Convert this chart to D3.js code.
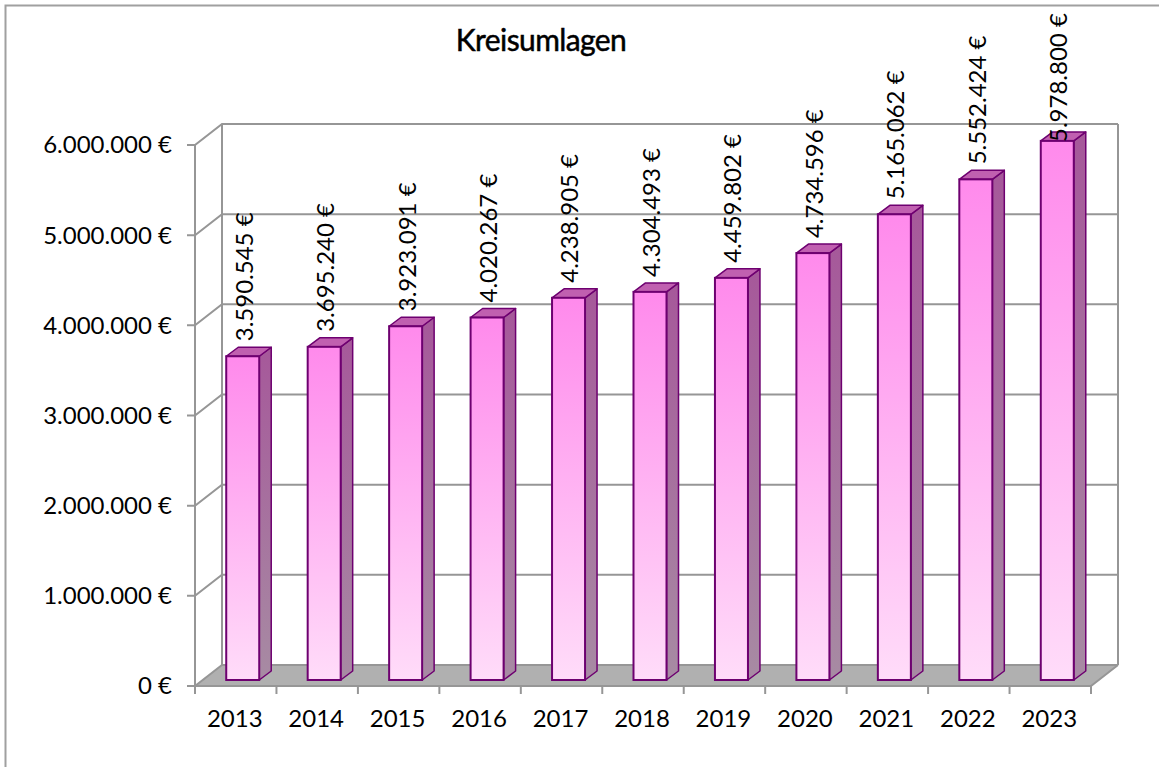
<!DOCTYPE html>
<html><head><meta charset="utf-8">
<script src="https://cdnjs.cloudflare.com/ajax/libs/d3/7.8.5/d3.min.js"></script>
<style>html,body{margin:0;padding:0;background:#fff}svg{display:block}text{font-family:Lato,"Open Sans",sans-serif;fill:#000}</style>
</head><body><svg id="c" width="1159" height="767"></svg>
<script>
const years=["2013","2014","2015","2016","2017","2018","2019","2020","2021","2022","2023"];
const kreisumlagen=[3590545,3695240,3923091,4020267,4238905,4304493,4459802,4734596,5165062,5552424,5978800];
const valueTicks=[0,1000000,2000000,3000000,4000000,5000000,6000000];
const title="Kreisumlagen";

const svg=d3.select("#c");
const L=195,R=1091,B=686,T=145,wallDx=27,wallDy=-21,barInset=7,barDx=12,barDy=-9,barW=33;
const x=d3.scaleBand().domain(years).range([L,R]);
const y=d3.scaleLinear().domain([0,6000000]).range([B,T]);
const de=d=>d3.format(",")(d).replace(/,/g,".")+" €";
const grey="#969696";

const defs=svg.append("defs");
const grad=(id,a,b)=>{const g=defs.append("linearGradient").attr("id",id).attr("x1",0).attr("y1",0).attr("x2",0).attr("y2",1);
 g.append("stop").attr("offset",0).attr("stop-color",a);g.append("stop").attr("offset",1).attr("stop-color",b);};
grad("front","#ff8aec","#ffdcf9");
grad("side","#a6589a","#a78ba3");

// frame
svg.append("path").attr("d","M5.5,767V5.5H1159").attr("fill","none").attr("stroke","#a0a0a0").attr("stroke-width",2);

// floor
svg.append("path").attr("d",`M${L},${B}L${L+wallDx},${B+wallDy}H${R+wallDx}L${R},${B}Z`).attr("fill","#b0b0b0");

// gridlines on wall and side wall
const grid=svg.append("g").attr("fill","none").attr("stroke",grey).attr("stroke-width",2);
valueTicks.forEach(v=>{
  grid.append("path").attr("d",`M${L-8},${y(v)}H${L}L${L+wallDx},${y(v)+wallDy}H${R+wallDx}`);
});
grid.append("path").attr("d",`M${L},${y(0)}V${y(6000000)}`);
grid.append("path").attr("d",`M${L+wallDx},${y(0)+wallDy}V${y(6000000)+wallDy}`);
grid.append("path").attr("d",`M${R+wallDx},${y(0)+wallDy}V${y(6000000)+wallDy}`);
grid.append("path").attr("d",`M${L},${B}H${R}L${R+wallDx},${B+wallDy}`);
years.concat(["end"]).forEach(c=>{
  const px=c==="end"?R:x(c);
  grid.append("path").attr("d",`M${px},${B}v8`);
});

// axis labels
svg.append("g").selectAll("text").data(valueTicks).join("text")
 .attr("x",172).attr("y",d=>y(d)).attr("dy","0.35em").attr("text-anchor","end").attr("font-size",24).text(de);
svg.append("g").selectAll("text").data(years).join("text")
 .attr("x",d=>x(d)+x.bandwidth()/2-1).attr("y",727).attr("text-anchor","middle").attr("font-size",24).text(d=>d);

// bars
const stroke="#6e0070";
const base=B-6;
const h=v=>y(0)-y(v);
const bars=svg.append("g").selectAll("g").data(years.map((c,i)=>({c,v:kreisumlagen[i]}))).join("g")
 .attr("transform",d=>`translate(${x(d.c)+x.bandwidth()/2-barW/2+barInset},0)`);
bars.append("path").attr("d",d=>`M${barW},${base}l${barDx},${barDy}V${base-h(d.v)+barDy}l${-barDx},${-barDy}Z`)
 .attr("fill","url(#side)").attr("stroke",stroke).attr("stroke-width",1.5).attr("stroke-linejoin","round");
bars.append("path").attr("d",d=>`M0,${base-h(d.v)}l${barDx},${barDy}h${barW}l${-barDx},${-barDy}Z`)
 .attr("fill","#c060b0").attr("stroke",stroke).attr("stroke-width",1.5).attr("stroke-linejoin","round");
bars.append("rect").attr("x",0).attr("y",d=>base-h(d.v)).attr("width",barW).attr("height",d=>h(d.v))
 .attr("fill","url(#front)").attr("stroke",stroke).attr("stroke-width",2);

// value labels
bars.append("text").attr("font-size",24).attr("dy","0.35em")
 .attr("transform",d=>`translate(${barW/2+1.5},${Math.max(base-h(d.v)-15,142)}) rotate(-90)`)
 .text(d=>de(d.v));

svg.append("text").attr("x",541).attr("y",51).attr("text-anchor","middle").attr("font-size",30).attr("letter-spacing","-0.6")
 .attr("stroke","#000").attr("stroke-width",0.5).text(title);
</script></body></html>
